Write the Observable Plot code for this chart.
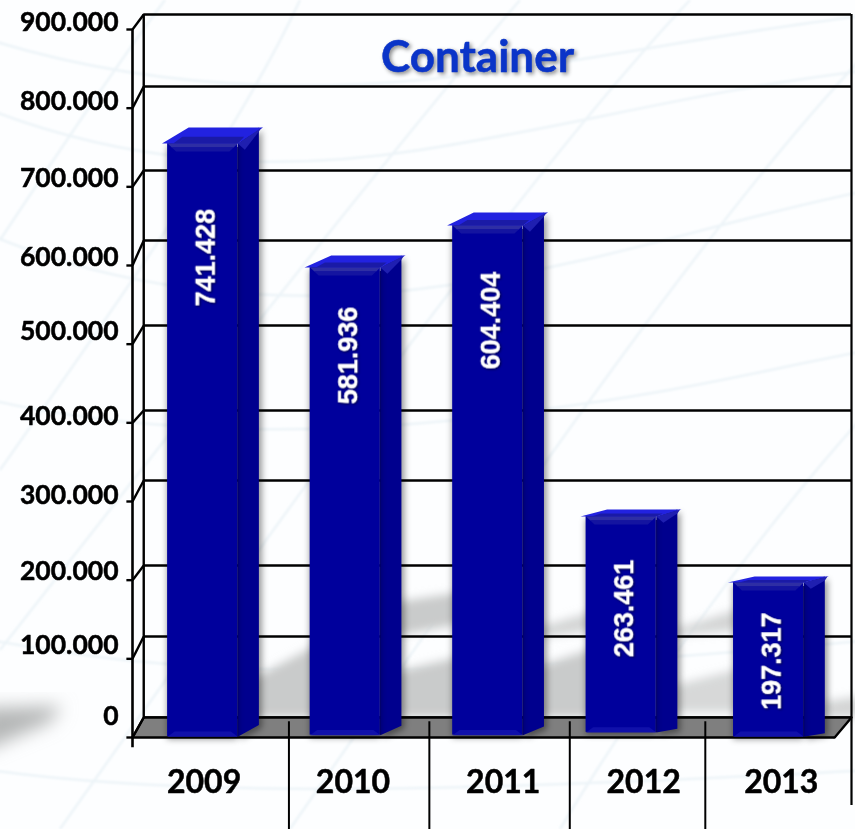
<!DOCTYPE html>
<html>
<head>
<meta charset="utf-8">
<script src="https://cdn.jsdelivr.net/npm/d3@7"></script>
<script src="https://cdn.jsdelivr.net/npm/@observablehq/plot@0.6"></script>
<style>
  html,body{margin:0;padding:0;background:#fff;overflow:hidden}
  #stage{position:relative;width:855px;height:829px;overflow:hidden;background:#fdfeff}
  #bg{position:absolute;left:0;top:0}
  #chart{position:absolute;left:0;top:0}
  #chart svg{background:transparent;display:block}
</style>
</head>
<body>
<div id="stage">
  <!-- the pale photographic backdrop of the slide; carries no data -->
  <svg id="bg" width="855" height="829" viewBox="0 0 855 829">
    <defs>
      <filter id="soft" x="-30%" y="-30%" width="160%" height="160%"><feGaussianBlur stdDeviation="5"/></filter>
      <filter id="softer" x="-30%" y="-30%" width="160%" height="160%"><feGaussianBlur stdDeviation="9"/></filter>
      <filter id="hair"><feGaussianBlur stdDeviation="1"/></filter>
    </defs>
    <g fill="none" stroke="#edf4f8" stroke-width="2.5" filter="url(#hair)">
      <path d="M-10,40 C120,80 260,95 420,80 S700,35 870,15"/>
      <path d="M-10,110 C120,160 260,175 420,150 S700,90 870,70"/>
      <path d="M-10,235 C120,290 280,310 450,285 S720,220 870,190"/>
      <path d="M-10,400 C120,430 300,440 500,415 S760,370 870,350"/>
      <path d="M-10,640 C150,670 350,690 870,640"/>
      <path d="M-10,770 C200,800 500,790 870,770"/>
      <path d="M0,240 C60,150 120,60 165,0"/>
      <path d="M0,470 C120,300 240,130 300,0"/>
      <path d="M0,650 C180,420 400,140 520,0"/>
      <path d="M60,829 C250,560 520,180 690,0"/>
      <path d="M290,829 C450,600 690,240 860,60"/>
      <path d="M560,829 C650,680 770,520 860,420"/>
    </g>
    <g fill="#c9cbcb" filter="url(#soft)">
      <polygon points="250,680 322,642 322,717 250,717"/>
      <polygon points="395,672 462,656 462,717 395,717"/>
      <polygon points="536,667 598,647 598,717 536,717"/>
      <polygon points="672,686 742,668 742,712 672,712" opacity=".75"/>
      <polygon points="395,602 462,592 462,624 395,636"/>
      <polygon points="536,628 598,610 598,630 536,638" opacity=".8"/>
      <polygon points="672,630 742,608 742,630 672,636" opacity=".8"/>
      <polygon points="822,702 860,696 860,717 822,717" opacity=".8"/>
    </g>
    <polygon points="-20,708 62,706 50,722 -20,752" fill="#b4b6b6" filter="url(#softer)"/>
  </svg>
  <div id="chart"></div>
</div>
<script>
// Data
const years = ["2009", "2010", "2011", "2012", "2013"];
const labelledValues = [741428, 581936, 604404, 263461, 197317];
// Bar tops and feet as they are actually drawn, read against the axis
const drawnTops = [755000, 597400, 650800, 280900, 197000];
const drawnFeet = [1000, 3000, 3000, 6500, 1000];
const topDepths = [20300, 15300, 16500, 8900, 7600];
const footDepths = [15000, 12000, 11000, 4500, 4500];
const barCentersAt = [0.5, 1.515, 2.53, 3.48, 4.53];
const dividersAt = [1, 2, 3, 3.965];
// Where the value labels sit, read against the axis
const valueLabelAt = [610000, 485600, 530000, 164000, 97000];
const yearLabelAt = [0.51, 1.57, 2.64, 3.64, 4.62];

const tickValues = [0, 100000, 200000, 300000, 400000, 500000, 600000, 700000, 800000, 900000];
const tickLabels = ["0", "100.000", "200.000", "300.000", "400.000", "500.000", "600.000", "700.000", "800.000", "900.000"];
const tickLabelAt = [26700, 116900, 210900, 307500, 408000, 516100, 610200, 710600, 808500, 908900];
// Rear-wall gridlines as drawn (slightly uneven in the picture)
const wallLinesAt = [25400, 128400, 218600, 326700, 415700, 523700, 631800, 720700, 827500, 919000];

const chartTitle = "Container";

// Depth of the pseudo-3D drawing, in scale units
const depthX = 0.15, bevel = 5000, wallX = 0.08, wallRight = 5.12, bottom = -117000;
const font = "Lato, Carlito, 'Open Sans', sans-serif";
const labelFont = "'Liberation Sans', Arial, sans-serif";

function tickFormat(v) {
  return d3.format(",")(v).replace(/,/g, ".");
}

const ticks = tickValues.map((v, i) => ({v, label: tickLabels[i], at: tickLabelAt[i], wall: wallLinesAt[i]}));
const bars = years.map((year, i) => ({
  year, i, value: labelledValues[i], top: drawnTops[i], foot: drawnFeet[i],
  td: topDepths[i], fd: footDepths[i],
  c: barCentersAt[i], l: barCentersAt[i] - 0.25, r: barCentersAt[i] + 0.25,
  labelAt: valueLabelAt[i], yearAt: yearLabelAt[i]
}));

function poly(fn) {
  return bars.flatMap(b => fn(b).map(([x, y]) => ({x, y, z: b.year})));
}
const sideFace = poly(b => [[b.r, b.foot], [b.r + depthX, b.foot + b.fd], [b.r + depthX, b.top + b.td], [b.r, b.top]]);
const topFace = poly(b => [[b.l - .04, b.top], [b.l + depthX, b.top + b.td], [b.r + depthX + .03, b.top + b.td], [b.r, b.top]]);
const topInner = poly(b => [[b.l + .04, b.top], [b.l + depthX * .7, b.top + b.td * .42], [b.r + depthX * .3, b.top + b.td * .42], [b.r, b.top]]);
const bevelOuter = poly(b => [[b.l, b.top], [b.r, b.top], [b.r - .03, b.top - bevel], [b.l + .03, b.top - bevel]]);
const bevelInner = poly(b => [[b.l + .03, b.top - bevel], [b.r - .03, b.top - bevel], [b.r - .06, b.top - bevel * 2], [b.l + .06, b.top - bevel * 2]]);
const sideBevel = poly(b => [[b.r, b.top], [b.r + depthX + .02, b.top + b.td], [b.r + depthX, b.top + b.td - bevel], [b.r + .05, b.top - bevel * 1.6]]);
const footBevel = poly(b => [[b.l, b.foot], [b.r, b.foot], [b.r - .05, b.foot + bevel * 1.3], [b.l + .05, b.foot + bevel * 1.3]]);
const floor = [{x: 0, y: 0}, {x: wallX, y: wallLinesAt[0]}, {x: wallRight, y: wallLinesAt[0]}, {x: 5, y: 0}];

const black = "#000";
const chart = Plot.plot({
  width: 855, height: 829,
  marginTop: 0, marginRight: 0, marginBottom: 0, marginLeft: 0,
  style: {background: "transparent", overflow: "visible"},
  x: {axis: null, domain: [0, wallRight], range: [132, 851]},
  y: {axis: null, domain: [0, 900000], range: [737, 29]},
  marks: [
    // rear wall
    Plot.ruleY(ticks, {y: "wall", x1: wallX, x2: wallRight, stroke: black, strokeWidth: 2.4}),
    Plot.ruleX([wallX], {y1: wallLinesAt[0], y2: wallLinesAt[9], stroke: black, strokeWidth: 2.4}),
    Plot.ruleX([wallRight], {y1: wallLinesAt[9], y2: bottom * .74, stroke: black, strokeWidth: 2.2}),
    // floor
    Plot.line(floor, {x: "x", y: "y", fill: "#7f7f7f", stroke: black, strokeWidth: 2.4}),
    // slanted ticks
    Plot.link(ticks, {x1: 0, x2: wallX, y1: "v", y2: "wall", stroke: black, strokeWidth: 2.4}),
    Plot.ruleY(ticks, {y: "v", x1: -.04, x2: 0, stroke: black, strokeWidth: 2.4}),
    // front axis
    Plot.ruleX([0], {y1: -13000, y2: 900000, stroke: black, strokeWidth: 2.6}),
    Plot.ruleY([0], {x1: 0, x2: 5, stroke: black, strokeWidth: 2.6}),
    // category dividers
    Plot.ruleX(dividersAt, {y1: 20000, y2: bottom, dx: 16, stroke: black, strokeWidth: 2}),
    // bars
    Plot.line(sideFace, {x: "x", y: "y", z: "z", fill: "#00008e", imageFilter: "drop-shadow(3px 3px 3px #0006)"}),
    Plot.rect(bars, {x1: "l", x2: "r", y1: "foot", y2: "top", fill: "#00009c", imageFilter: "drop-shadow(0 3px 3px #0006)"}),
    Plot.line(topFace, {x: "x", y: "y", z: "z", fill: "#2222e0"}),
    Plot.line(topInner, {x: "x", y: "y", z: "z", fill: "#1a1aa6"}),
    Plot.line(bevelOuter, {x: "x", y: "y", z: "z", fill: "#2e2ea4"}),
    Plot.line(bevelInner, {x: "x", y: "y", z: "z", fill: "#1414a0"}),
    Plot.line(sideBevel, {x: "x", y: "y", z: "z", fill: "#1f1fb0"}),
    Plot.line(footBevel, {x: "x", y: "y", z: "z", fill: "#1010aa"}),
    Plot.ruleX(bars, {x: "r", y1: "foot", y2: d => d.top - bevel, stroke: "#00006a", strokeWidth: 1.2}),
    // value labels
    Plot.text(bars, {
      x: "c", y: "labelAt", text: d => tickFormat(d.value), rotate: -90, dx: 3,
      fill: "#fff", stroke: "#fff", strokeWidth: .4, fontSize: 27, fontWeight: 700, fontFamily: labelFont,
      textAnchor: "middle", lineAnchor: "middle",
      imageFilter: "drop-shadow(1px 1px 1px #0008)"
    }),
    // tick labels
    Plot.text(ticks, {
      x: 0, y: "at", text: "label", dx: -14, textAnchor: "end", lineAnchor: "middle",
      fill: "#000", stroke: "#000", strokeWidth: .5, fontSize: 26.5, fontWeight: 700, fontFamily: font
    }),
    // year labels
    Plot.text(bars, {
      x: "yearAt", y: -57000, text: "year", fill: "#000", stroke: "#000", strokeWidth: .5,
      fontSize: 32, fontWeight: 700, fontFamily: font, lineAnchor: "middle"
    }),
    // title
    Plot.text([chartTitle], {
      x: 2.5, y: 864000, dx: -6, text: d => d, fill: "#0a34c8", stroke: "#0a34c8", strokeWidth: .5,
      fontSize: 44, fontWeight: 700, fontFamily: font, lineAnchor: "middle",
      imageFilter: "drop-shadow(2px 2px 2px #0007)"
    })
  ]
});
document.getElementById("chart").append(chart);
</script>
</body>
</html>
